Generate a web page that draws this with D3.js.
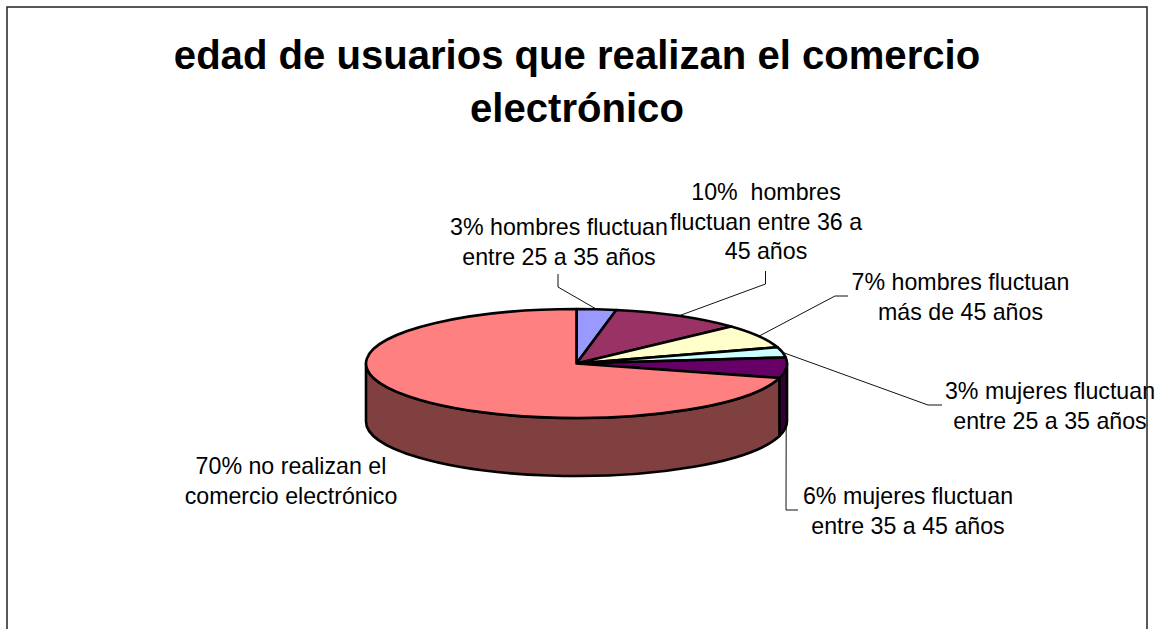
<!DOCTYPE html>
<html>
<head>
<meta charset="utf-8">
<script src="https://cdn.jsdelivr.net/npm/d3@7/dist/d3.min.js"></script>
<style>
  html, body { margin: 0; padding: 0; background: #fff; overflow: hidden; }
  text { font-family: "Liberation Sans", Arial, sans-serif; fill: #000; }
</style>
</head>
<body>
<svg id="chart" width="1160" height="629"></svg>
<script>
// Slice values in percent, in clockwise order from twelve o'clock
const sliceValues = [3, 10, 7, 3, 6, 70];
const topColors = ["#9999ff", "#993366", "#ffffcc", "#ccffff", "#660066", "#ff8080"];
const wallColors = ["#4d4d80", "#4d1a33", "#808066", "#668080", "#330033", "#804040"];
const sliceLabels = [
  ["3% hombres fluctuan", "entre 25 a 35 años"],
  ["10%  hombres", "fluctuan entre 36 a", "45 años"],
  ["7% hombres fluctuan", "más de 45 años"],
  ["3% mujeres fluctuan", "entre 25 a 35 años"],
  ["6% mujeres fluctuan", "entre 35 a 45 años"],
  ["70% no realizan el", "comercio electrónico"]
];
const titleLines = ["edad de usuarios que realizan el comercio", "electrónico"];

// Layout of the label blocks: centre x, first baseline, and leader elbows
const labelLayout = [
  { x: 559, y: 235, elbows: [[558, 287], [558, 274]] },
  { x: 766, y: 200, elbows: [[765.5, 284], [765.5, 271]] },
  { x: 960.5, y: 290, elbows: [[835, 296], [848, 296]] },
  { x: 1050, y: 399, elbows: [[928, 405], [942, 405]] },
  { x: 908, y: 504, elbows: [[786, 510], [798, 510]] },
  { x: 291, y: 474, elbows: [] }
];

const pieCx = 576.5, pieCy = 363.5, rx = 210.5, ry = 54.5, depth = 58;
const lineHeight = 29.5;

const svg = d3.select("#chart");

svg.append("rect")
  .attr("x", 7).attr("y", 7).attr("width", 1140).attr("height", 660)
  .attr("fill", "#fff").attr("stroke", "#222").attr("stroke-width", 1.5);

svg.append("g").selectAll("text").data(titleLines).join("text")
  .attr("x", 577).attr("y", (d, i) => 69 + i * 53)
  .attr("text-anchor", "middle")
  .attr("font-size", 40.1).attr("font-weight", "bold")
  .text(d => d);

const slices = d3.pie().sort(null).value(d => d)(sliceValues);

// A point on the top ellipse, angle measured clockwise from twelve o'clock
const rim = (a, dy = 0) => [pieCx + rx * Math.sin(a), pieCy - ry * Math.cos(a) + dy];

// Leader lines run from the rim at each slice's mid-angle, under the pie
const line = d3.line();
svg.append("g").selectAll("path")
  .data(slices.filter((s, i) => labelLayout[i].elbows.length))
  .join("path")
  .attr("fill", "none").attr("stroke", "#111").attr("stroke-width", 1)
  .attr("d", s => line([rim((s.startAngle + s.endAngle) / 2), ...labelLayout[s.index].elbows]));

// Side walls: only the part of each slice facing the viewer (90° to 270°)
const wallFor = s => {
  const a0 = Math.max(s.startAngle, Math.PI / 2);
  const a1 = Math.min(s.endAngle, 3 * Math.PI / 2);
  if (a1 <= a0) return null;
  const [x0, y0] = rim(a0), [x1, y1] = rim(a1);
  const [bx1, by1] = rim(a1, depth), [bx0, by0] = rim(a0, depth);
  return `M${x0},${y0}A${rx},${ry} 0 0 1 ${x1},${y1}L${bx1},${by1}A${rx},${ry} 0 0 0 ${bx0},${by0}Z`;
};
svg.append("g").selectAll("path")
  .data(slices.filter(wallFor))
  .join("path")
  .attr("d", wallFor)
  .attr("fill", s => wallColors[s.index])
  .attr("stroke", "#000").attr("stroke-width", 2.6).attr("stroke-linejoin", "round");

// Top face: a unit-radius d3.arc squashed into the ellipse
const arc = d3.arc().innerRadius(0).outerRadius(1);
svg.append("g")
  .attr("transform", `translate(${pieCx},${pieCy}) scale(${rx},${ry})`)
  .selectAll("path").data(slices).join("path")
  .attr("d", arc)
  .attr("fill", s => topColors[s.index])
  .attr("stroke", "#000").attr("stroke-width", 2.6).attr("stroke-linejoin", "round")
  .attr("vector-effect", "non-scaling-stroke");

// Slice labels, one tspan per line
const labels = svg.append("g").selectAll("text").data(sliceLabels).join("text")
  .attr("text-anchor", "middle").attr("font-size", 23.2);
labels.selectAll("tspan")
  .data((d, i) => d.map((t, j) => ({ t, j, i })))
  .join("tspan")
  .attr("x", d => labelLayout[d.i].x)
  .attr("y", d => labelLayout[d.i].y + d.j * lineHeight)
  .attr("xml:space", "preserve")
  .style("white-space", "pre")
  .text(d => d.t);
</script>
</body>
</html>
